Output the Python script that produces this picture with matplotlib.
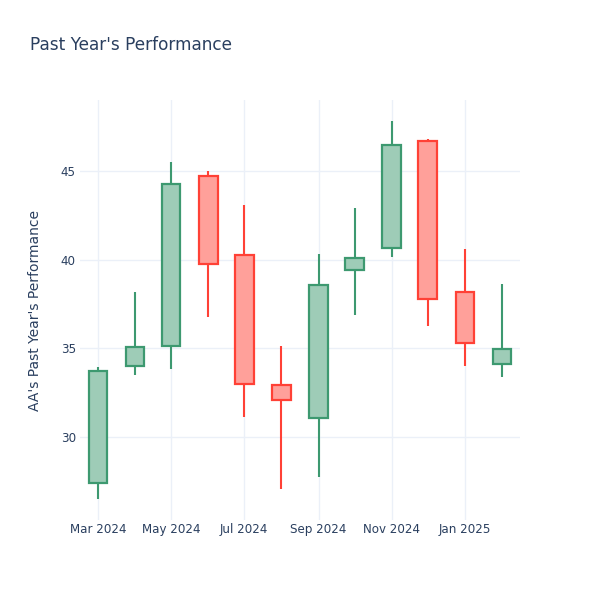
import matplotlib

matplotlib.use("Agg")
import matplotlib.dates as mdates
import matplotlib.pyplot as plt
import numpy as np
from matplotlib.patches import Rectangle

# monthly OHLC
months = ["2024-03-01", "2024-04-01", "2024-05-01", "2024-06-01", "2024-07-01", "2024-08-01",
          "2024-09-01", "2024-10-01", "2024-11-01", "2024-12-01", "2025-01-01", "2025-02-01"]
opens = [27.45, 34.04, 35.16, 44.69, 40.26, 32.93, 31.10, 39.40, 40.64, 46.67, 38.16, 34.15]
highs = [33.95, 38.16, 45.50, 44.97, 43.10, 35.13, 40.29, 42.92, 47.80, 46.80, 40.62, 38.60]
lows = [26.55, 33.50, 33.87, 36.77, 31.14, 27.09, 27.77, 36.87, 40.15, 36.29, 34.02, 33.40]
closes = [33.76, 35.10, 44.28, 39.78, 33.02, 32.10, 38.57, 40.07, 46.45, 37.77, 35.31, 34.99]

tick_dates = ["2024-03-01", "2024-05-01", "2024-07-01", "2024-09-01", "2024-11-01", "2025-01-01"]
tick_labels = ["Mar 2024", "May 2024", "Jul 2024", "Sep 2024", "Nov 2024", "Jan 2025"]
y_ticks = [30, 35, 40, 45]

INC_LINE, INC_FILL = "#3D9970", "#9ECCB7"
DEC_LINE, DEC_FILL = "#FF4136", "#FFA09A"
TEXT = "#2a3f5f"
GRID = "#EBF0F8"

fig = plt.figure(figsize=(6, 6), dpi=100)
ax = fig.add_axes([80 / 600, 80 / 600, 440 / 600, 420 / 600])

x = mdates.date2num(np.array(months, dtype="datetime64[D]"))
width = 15.5  # days

for xi, o, h, l, c in zip(x, opens, highs, lows, closes):
    up = c >= o
    line = INC_LINE if up else DEC_LINE
    fill = INC_FILL if up else DEC_FILL
    lo_b, hi_b = min(o, c), max(o, c)
    ax.vlines(xi, l, lo_b, color=line, lw=1.5, zorder=2)
    ax.vlines(xi, hi_b, h, color=line, lw=1.5, zorder=2)
    ax.add_patch(Rectangle((xi - width / 2, lo_b), width, hi_b - lo_b,
                           facecolor=fill, edgecolor=line, lw=1.6, zorder=3))

ax.set_xlim(mdates.date2num(np.datetime64("2024-02-15")), mdates.date2num(np.datetime64("2025-02-16")))
ax.set_ylim(25.35, 48.98)

ax.set_xticks(mdates.date2num(np.array(tick_dates, dtype="datetime64[D]")))
ax.set_xticklabels(tick_labels)
ax.set_yticks(y_ticks)
ax.tick_params(axis="both", length=0, labelsize=8.6, colors=TEXT)
ax.tick_params(axis="x", pad=2.5)
ax.tick_params(axis="y", pad=3)

ax.grid(True, color=GRID, lw=1)
ax.set_axisbelow(True)
for s in ax.spines.values():
    s.set_visible(False)

fig.text(0.05, 1 - 45 / 600, "Past Year's Performance", fontsize=12.2, color=TEXT, va="center", ha="left")
fig.text(35 / 600, 1 - 310 / 600, "AA's Past Year's Performance", fontsize=10, color=TEXT,
         rotation=90, va="center", ha="center")

fig.savefig("out.png", dpi=100)
